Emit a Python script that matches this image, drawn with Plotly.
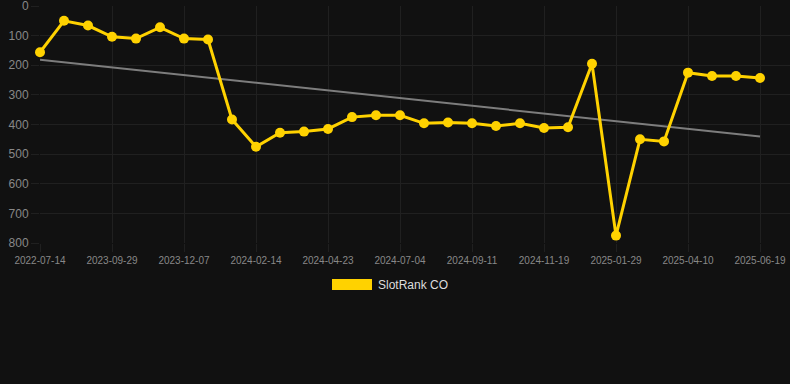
import numpy as np
import plotly.graph_objects as go

# ---- data ----
ranks = [156, 50, 66, 104, 110, 72, 110, 113, 383, 475, 428, 424, 415, 375, 369, 369,
         396, 393, 396, 405, 396, 412, 409, 195, 775, 450, 457, 225, 236, 236, 243]
tick_labels = ["2022-07-14", "2023-09-29", "2023-12-07", "2024-02-14", "2024-04-23",
               "2024-07-04", "2024-09-11", "2024-11-19", "2025-01-29", "2025-04-10",
               "2025-06-19"]
series_name = "SlotRank CO"

idx = list(range(len(ranks)))
tick_pos = idx[::3]

slope, intercept = np.polyfit(idx, ranks, 1)
trend = [slope * i + intercept for i in (idx[0], idx[-1])]

W, H = 790, 384
L, R, T, B = 40, 0, 6, 141
pw, ph = W - L - R, H - T - B

def px(x):
    return (x - L) / pw

def py(y):
    return (H - B - y) / ph

GOLD = "#FFD200"
GRID = "#202020"
fig = go.Figure()
fig.add_trace(go.Scatter(x=[idx[0], idx[-1]], y=trend, mode="lines",
                         line=dict(color="#7d7d7d", width=2), hoverinfo="skip",
                         showlegend=False))
fig.add_trace(go.Scatter(x=idx, y=ranks, mode="lines+markers", name=series_name,
                         line=dict(color=GOLD, width=3), cliponaxis=False,
                         marker=dict(color=GOLD, size=10), showlegend=False))

fig.update_layout(
    width=W, height=H,
    margin=dict(l=L, r=R, t=T, b=B),
    paper_bgcolor="#111111", plot_bgcolor="#111111",
    font=dict(family="Liberation Sans, Arial, sans-serif", color="#888888"),
    showlegend=False,
    shapes=[dict(type="rect", xref="paper", yref="paper",
                 x0=px(332), x1=px(372), y0=py(290), y1=py(279),
                 fillcolor=GOLD, line=dict(width=0))],
    annotations=[dict(text=series_name, xref="paper", yref="paper",
                      x=px(376), y=py(285), xanchor="left", yanchor="middle",
                      showarrow=False, font=dict(size=12, color="#dddddd"))],
)
fig.update_xaxes(range=[0, 31.25], tickvals=tick_pos, ticktext=tick_labels,
                 showgrid=True, gridcolor=GRID, gridwidth=1, zeroline=False,
                 ticks="outside", ticklen=8, tickcolor=GRID, ticklabeloverflow="allow",
                 tickfont=dict(size=10, color="#888888"), showline=False)
fig.update_yaxes(range=[800, -0.01], tickvals=list(range(0, 801, 100)),
                 showgrid=True, gridcolor=GRID, gridwidth=1, zeroline=False,
                 ticks="outside", ticklen=8, tickcolor=GRID, ticklabeloverflow="allow",
                 tickfont=dict(size=12, color="#888888"), showline=False)

fig.write_html("out.html", config={"displayModeBar": False},
               post_script="document.body.style.margin='0px';document.body.style.background='#111111';")
